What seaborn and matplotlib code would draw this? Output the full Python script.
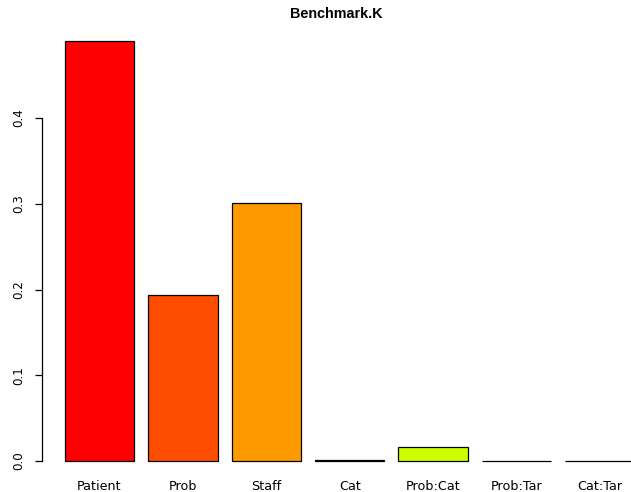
import matplotlib
matplotlib.use("Agg")
import matplotlib.pyplot as plt
import seaborn as sns
import pandas as pd

# values
terms = ["Patient", "Prob", "Staff", "Cat", "Prob:Cat", "Prob:Tar", "Cat:Tar"]
values = [0.490, 0.1935, 0.301, 0.0012, 0.0163, 0.0, 0.0]
colors = ["#FF0000", "#FF4D00", "#FF9900", "#FFE600", "#CCFF00", "#80FF00", "#33FF00"]

sns.set_theme(style="white")
plt.rcParams['font.family'] = ['DejaVu Sans']
plt.rcParams['text.color'] = 'black'
plt.rcParams['xtick.color'] = 'black'
plt.rcParams['ytick.color'] = 'black'

df = pd.DataFrame({"term": terms, "value": values})

fig = plt.figure(figsize=(6.31, 4.92), dpi=100)
W, H = 631.0, 492.0
ax = fig.add_axes([42.2 / W, (H - 478) / H, (631 - 42.2) / W, (478 - 24) / H])

sns.barplot(data=df, x="term", y="value", hue="term", palette=colors,
            order=terms, hue_order=terms, width=0.833, legend=False,
            edgecolor="black", linewidth=0.9, saturation=1, ax=ax)

ax.set_xlim(-0.687, 6.373)
ax.set_ylim(-0.0198, 0.5096)

for s in ["top", "right", "bottom"]:
    ax.spines[s].set_visible(False)
ax.spines["left"].set_bounds(0, 0.4)
ax.spines["left"].set_color("black")
ax.spines["left"].set_linewidth(0.9)

ax.set_yticks([0.0, 0.1, 0.2, 0.3, 0.4])
ax.set_yticklabels(["0.0", "0.1", "0.2", "0.3", "0.4"], rotation=90, va="center")
ax.tick_params(axis="y", left=True, length=5, width=0.9, labelsize=8.6, pad=7)
ax.tick_params(axis="x", bottom=False, length=0, labelsize=9.2, pad=1.5)
ax.set_xlabel("")
ax.set_ylabel("")
ax.grid(False)

ax.set_title("Benchmark.K", fontsize=10.4, fontweight="bold", pad=4.5,
             family=["Liberation Sans", "DejaVu Sans"])

fig.savefig("out.png", dpi=100)
